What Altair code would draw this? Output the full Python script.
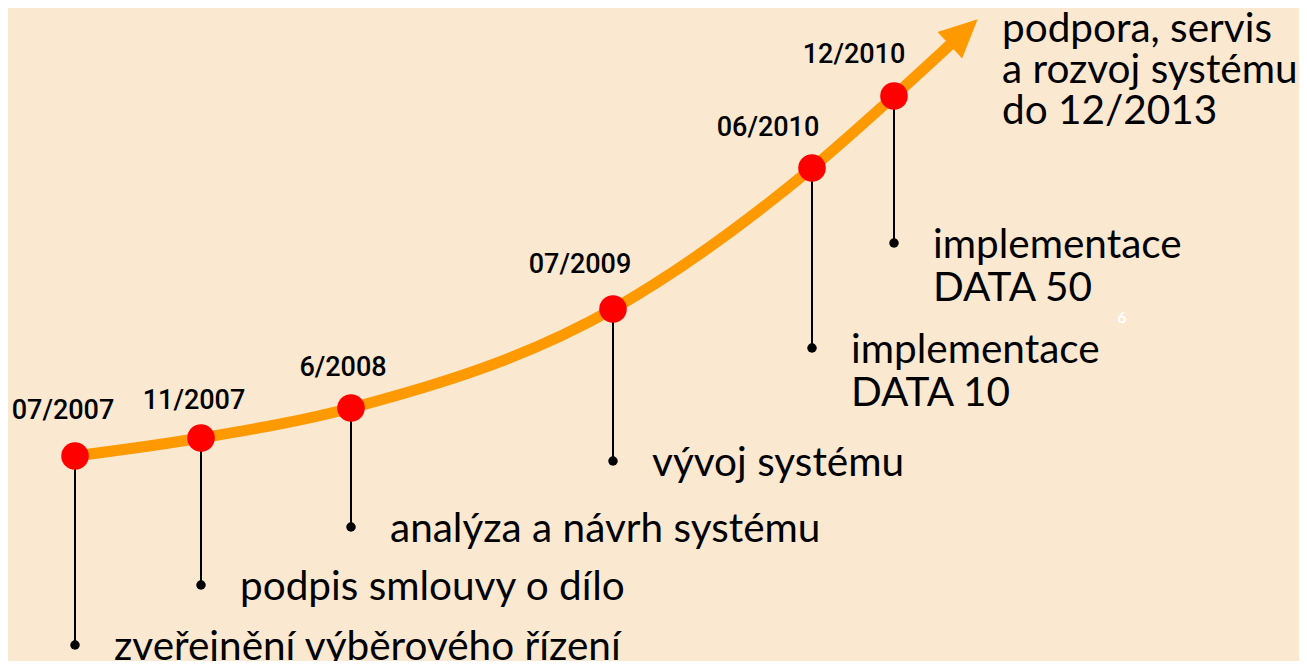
import altair as alt
import pandas as pd

# Milestones
dates = ["07/2007", "11/2007", "6/2008", "07/2009", "06/2010", "12/2010"]
dot_x = [75, 201, 351, 613, 812, 894]
dot_y = [456, 438, 408, 309, 168, 96]
label_x = [63, 194, 343, 580, 768, 854]
label_y = [419, 409, 376, 273, 136, 63]
bullet_y = [645, 585, 527, 461, 348, 243]
descriptions = [
    ["zveřejnění výběrového řízení"],
    ["podpis smlouvy o dílo"],
    ["analýza a návrh systému"],
    ["vývoj systému"],
    ["implementace", "DATA 10"],
    ["implementace", "DATA 50"],
]
# curve end and arrow
curve_end = (953, 42)
arrow_center = (963, 33)
final_text = ["podpora, servis", "a rozvoj systému", "do 12/2013"]
final_pos = (1002, 42)
page_number = "6"
page_pos = (1122, 318)

BG = "#FBE8D0"
ORANGE = "#FF9900"
RED = "#FF0000"

W, H = 1291, 653
xs = alt.Scale(domain=[8, 8 + W])
ys = alt.Scale(domain=[8, 8 + H], reverse=True)

ms = pd.DataFrame({"date": dates, "x": dot_x, "y": dot_y, "lx": label_x,
                   "ly": label_y, "by": bullet_y})

curve = pd.DataFrame({"x": dot_x + [curve_end[0]], "y": dot_y + [curve_end[1]]})

desc_rows = []
for i, lines in enumerate(descriptions):
    for j, t in enumerate(lines):
        desc_rows.append({"x": dot_x[i], "y": bullet_y[i] + 15 + j * 43, "t": t})
desc = pd.DataFrame(desc_rows)

fin = pd.DataFrame([{"x": final_pos[0], "y": final_pos[1] + j * 41, "t": t}
                    for j, t in enumerate(final_text)])

X = lambda f: alt.X(f"{f}:Q", scale=xs, axis=None)
Y = lambda f: alt.Y(f"{f}:Q", scale=ys, axis=None)

line = alt.Chart(curve).mark_line(interpolate="monotone", strokeWidth=11,
                                  color=ORANGE, strokeCap="butt").encode(
    x=X("x"), y=Y("y"), order="x:Q")

arrow = alt.Chart(pd.DataFrame([{"x": arrow_center[0], "y": arrow_center[1]}])).mark_point(
    shape="M0,-1L0.9,0.9L-0.9,0.9Z", filled=True, opacity=1, color=ORANGE,
    size=1600, angle=47, strokeWidth=0).encode(x=X("x"), y=Y("y"))

rules = alt.Chart(ms).mark_rule(color="black", strokeWidth=2).encode(
    x=X("x"), y=Y("y"), y2="by:Q")

bullets = alt.Chart(ms).mark_circle(color="black", size=90, opacity=1).encode(
    x=X("x"), y=Y("by"))

dots = alt.Chart(ms).mark_circle(color=RED, size=760, opacity=1).encode(
    x=X("x"), y=Y("y"))

labels = alt.Chart(ms).mark_text(font="Roboto", fontSize=27, fontWeight=500, color="black",
                                 baseline="alphabetic", align="center").encode(
    x=X("lx"), y=Y("ly"), text="date:N")

desc_text = alt.Chart(desc).mark_text(font="Lato", fontSize=40.5, color="black",
                                      baseline="alphabetic", align="left", dx=39).encode(
    x=X("x"), y=Y("y"), text="t:N")

fin_text = alt.Chart(fin).mark_text(font="Lato", fontSize=40.5, color="black",
                                    baseline="alphabetic", align="left").encode(
    x=X("x"), y=Y("y"), text="t:N")

pnum = alt.Chart(pd.DataFrame([{"x": page_pos[0], "y": page_pos[1], "t": page_number}])).mark_text(
    font="Lato", fontSize=16, fontWeight="bold", color="white", baseline="middle").encode(
    x=X("x"), y=Y("y"), text="t:N")

chart = alt.layer(line, arrow, rules, bullets, dots, labels, desc_text, fin_text, pnum).properties(
    width=W, height=H, background=BG, padding=0,
    autosize=alt.AutoSizeParams(type="none"),
).configure_view(stroke=None)

chart.save("out.html", embed_options={"renderer": "svg", "actions": False})
